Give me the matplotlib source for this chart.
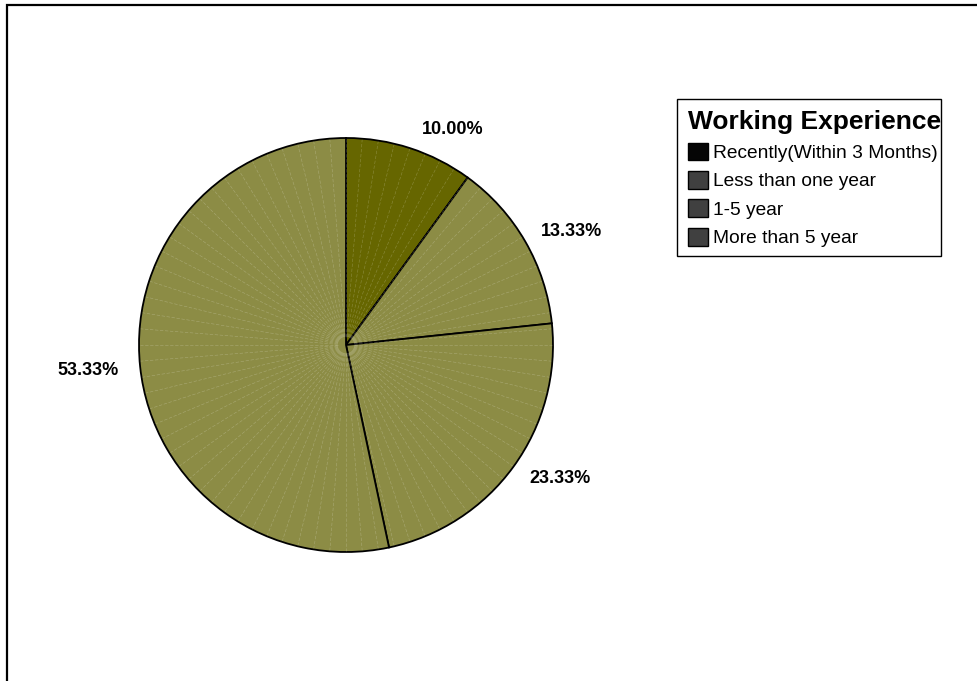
import numpy as np
import matplotlib
matplotlib.use('Agg')
import matplotlib.pyplot as plt
from matplotlib.patches import Patch, Rectangle

plt.rcParams['font.family'] = ['Liberation Sans', 'DejaVu Sans']

#%% data (30 respondents -> 10.00 / 13.33 / 23.33 / 53.33 %)
categories = ['Recently(Within 3 Months)', 'Less than one year', '1-5 year', 'More than 5 year']
counts = [3, 4, 7, 16]
slice_colors = ['#666600', '#8c8c45', '#8c8c45', '#8c8c45']
legend_colors = ['#050505', '#404040', '#404040', '#404040']
# label spots (pie radius units), excel puts them a bit off the mid angle
label_xy = [(0.517, 1.039), (1.087, 0.546), (1.034, -0.647), (-1.246, -0.121)]

#%% figure
W, H = 978, 681
fig = plt.figure(figsize=(W / 100, H / 100), dpi=100)
cx, cy, r = 346, H - 345, 207
ax = fig.add_axes([(cx - r) / W, (cy - r) / H, 2 * r / W, 2 * r / H])

wedges, texts, autotexts = ax.pie(counts, colors=slice_colors, startangle=90, counterclock=False,
                                  autopct='%.2f%%', pctdistance=1.2,
                                  wedgeprops=dict(edgecolor='black', linewidth=1.3))
for t, (x, y) in zip(autotexts, label_xy):
    t.set_position((x, y))
    t.set_fontsize(13)
    t.set_fontweight('bold')
    t.set_ha('center')
    t.set_va('center')

# faint white streaks of the excel fill
for a in np.arange(0, 360, 4.5):
    th = np.deg2rad(a)
    ax.plot([0.04 * np.cos(th), 0.995 * np.cos(th)], [0.04 * np.sin(th), 0.995 * np.sin(th)],
            color='white', lw=0.4, alpha=0.25, ls=(0, (6, 3)), zorder=1.5)
for w in wedges:
    w.set_zorder(1)

ax.set_xlim(-1, 1)
ax.set_ylim(-1, 1)
ax.set_aspect('equal')

#%% legend (frame drawn separately, the title runs up to the right edge like in excel)
handles = [Patch(facecolor=c, edgecolor='black', linewidth=1) for c in legend_colors]
leg = fig.legend(handles, categories, loc='upper left', bbox_to_anchor=(677 / W, 1 - 99 / H),
                 title='Working Experience', title_fontproperties={'weight': 'bold', 'size': 19},
                 fontsize=13.8, frameon=False,
                 handlelength=1.05, handleheight=1.05, handletextpad=0.3, labelspacing=0.47,
                 borderpad=0.55, borderaxespad=0)
leg._legend_box.align = 'left'
fig.add_artist(Rectangle((677 / W, 1 - 256 / H), (941 - 677) / W, (256 - 99) / H,
                         transform=fig.transFigure, fill=False, edgecolor='black', linewidth=1.0))

# outer chart border (cut at right and bottom)
fig.add_artist(Rectangle((7 / W, -0.1), 1.2, 1.1 - 5 / H, transform=fig.transFigure,
                         fill=False, edgecolor='black', linewidth=1.6, clip_on=False))

fig.savefig('out.png', dpi=100)
